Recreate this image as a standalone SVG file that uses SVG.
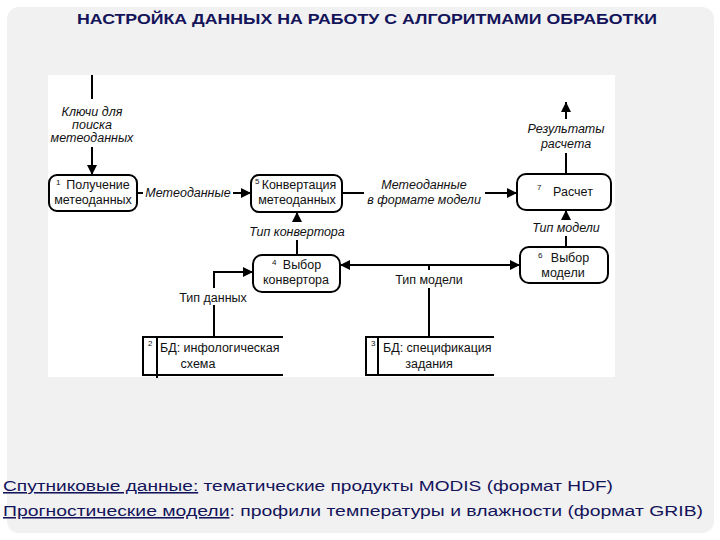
<svg xmlns="http://www.w3.org/2000/svg" width="720" height="540" viewBox="0 0 720 540">
<defs>
<marker id="ah" viewBox="0 0 10 10" refX="10" refY="5" markerWidth="10" markerHeight="10" markerUnits="userSpaceOnUse" orient="auto">
<path d="M0,0 L10,5 L0,10 z" fill="#000"/>
</marker>
<style>
.node{fill:#fff;stroke:#000;stroke-width:2}
.t{font-family:"Liberation Sans",Arial,sans-serif;font-size:12.5px;fill:#111}
.i{font-style:italic}
.n{font-family:"Liberation Sans",Arial,sans-serif;font-size:8px;fill:#111}
.c{fill:none;stroke:#000;stroke-width:2}
.h{font-family:"Liberation Sans",Arial,sans-serif;font-weight:bold;font-size:15px;fill:#14145a}
.b{font-family:"Liberation Sans",Arial,sans-serif;font-size:15.5px;fill:#14145a}
</style>
</defs>
<rect x="0" y="0" width="720" height="540" fill="#fff"/>
<rect x="7" y="7" width="707" height="526" rx="12" fill="#f1f1f1"/>
<rect x="48" y="75" width="567" height="302" fill="#fff"/>
<text class="h" x="367" y="24" text-anchor="middle" textLength="580" lengthAdjust="spacingAndGlyphs">НАСТРОЙКА ДАННЫХ НА РАБОТУ С АЛГОРИТМАМИ ОБРАБОТКИ</text>

<g id="connectors">
<line class="c" x1="92" y1="75" x2="92" y2="99"/>
<line class="c" x1="92" y1="147" x2="92" y2="175" marker-end="url(#ah)"/>
<line class="c" x1="137" y1="193" x2="143" y2="193"/>
<line class="c" x1="233" y1="193" x2="251" y2="193" marker-end="url(#ah)"/>
<line class="c" x1="342" y1="193" x2="364" y2="193"/>
<line class="c" x1="485" y1="193" x2="517" y2="193" marker-end="url(#ah)"/>
<line class="c" x1="566" y1="174" x2="566" y2="153"/>
<line class="c" x1="566" y1="119" x2="566" y2="102" marker-end="url(#ah)"/>
<line class="c" x1="566" y1="247" x2="566" y2="236"/>
<line class="c" x1="566" y1="219" x2="566" y2="210" marker-end="url(#ah)"/>
<line class="c" x1="297" y1="255" x2="297" y2="240"/>
<line class="c" x1="297" y1="222" x2="297" y2="212" marker-end="url(#ah)"/>
<line class="c" x1="429" y1="265" x2="340" y2="265" marker-end="url(#ah)"/>
<line class="c" x1="429" y1="265" x2="520" y2="265" marker-end="url(#ah)"/>
<line class="c" x1="429" y1="264" x2="429" y2="270"/>
<line class="c" x1="429" y1="288" x2="429" y2="337"/>
<line class="c" x1="214" y1="337" x2="214" y2="305"/>
<polyline class="c" points="214,288 214,272 253,272" marker-end="url(#ah)"/>
<text class="t i" x="92" y="116" text-anchor="middle">Ключи для</text>
<text class="t i" x="92" y="129" text-anchor="middle">поиска</text>
<text class="t i" x="92" y="142" text-anchor="middle">метеоданных</text>
<text class="t i" x="188" y="197" text-anchor="middle">Метеоданные</text>
<text class="t i" x="424" y="189" text-anchor="middle">Метеоданные</text>
<text class="t i" x="424" y="204" text-anchor="middle">в формате модели</text>
<text class="t i" x="566" y="133" text-anchor="middle">Результаты</text>
<text class="t i" x="566" y="148" text-anchor="middle">расчета</text>
<text class="t i" x="566" y="232" text-anchor="middle">Тип модели</text>
<text class="t i" x="297" y="236" text-anchor="middle">Тип конвертора</text>
<text class="t" x="429" y="284" text-anchor="middle">Тип модели</text>
<text class="t" x="213" y="302" text-anchor="middle">Тип данных</text>
</g>

<g id="node1">
<rect class="node" x="49" y="175" width="88" height="36" rx="8"/>
<text class="n" x="56" y="185">1</text>
<text class="t" x="98" y="189" text-anchor="middle">Получение</text>
<text class="t" x="93" y="204" text-anchor="middle">метеоданных</text>
</g>
<g id="node5">
<rect class="node" x="251" y="175" width="91" height="37" rx="8"/>
<text class="n" x="255" y="184">5</text>
<text class="t" x="299" y="189" text-anchor="middle">Конвертация</text>
<text class="t" x="297" y="204" text-anchor="middle">метеоданных</text>
</g>
<g id="node7">
<rect class="node" x="517" y="174" width="94" height="36" rx="9"/>
<text class="n" x="537" y="190">7</text>
<text class="t" x="573" y="196" text-anchor="middle">Расчет</text>
</g>
<g id="node6">
<rect class="node" x="520" y="247" width="88" height="36" rx="9"/>
<text class="n" x="538" y="258">6</text>
<text class="t" x="570" y="262" text-anchor="middle">Выбор</text>
<text class="t" x="563" y="277" text-anchor="middle">модели</text>
</g>
<g id="node4">
<rect class="node" x="253" y="255" width="87" height="37" rx="9"/>
<text class="n" x="272" y="265">4</text>
<text class="t" x="302" y="269" text-anchor="middle">Выбор</text>
<text class="t" x="296" y="284" text-anchor="middle">конвертора</text>
</g>
<g id="store2">
<polyline class="c" points="283,337 143,337 143,375 283,375"/>
<line class="c" x1="157" y1="337" x2="157" y2="378"/>
<text class="n" x="148" y="346">2</text>
<text class="t" x="160" y="352">БД: инфологическая</text>
<text class="t" x="198" y="368" text-anchor="middle">схема</text>
</g>
<g id="store3">
<polyline class="c" points="494,337 366,337 366,375 494,375"/>
<line class="c" x1="378" y1="337" x2="378" y2="375"/>
<text class="n" x="371" y="346">3</text>
<text class="t" x="383" y="352">БД: спецификация</text>
<text class="t" x="429" y="368" text-anchor="middle">задания</text>
</g>

<text class="b" x="3" y="491" textLength="610" lengthAdjust="spacingAndGlyphs"><tspan text-decoration="underline">Спутниковые данные:</tspan> тематические продукты MODIS (формат HDF)</text>
<text class="b" x="3" y="516" textLength="700" lengthAdjust="spacingAndGlyphs"><tspan text-decoration="underline">Прогностические модели</tspan>: профили температуры и влажности (формат GRIB)</text>
</svg>
